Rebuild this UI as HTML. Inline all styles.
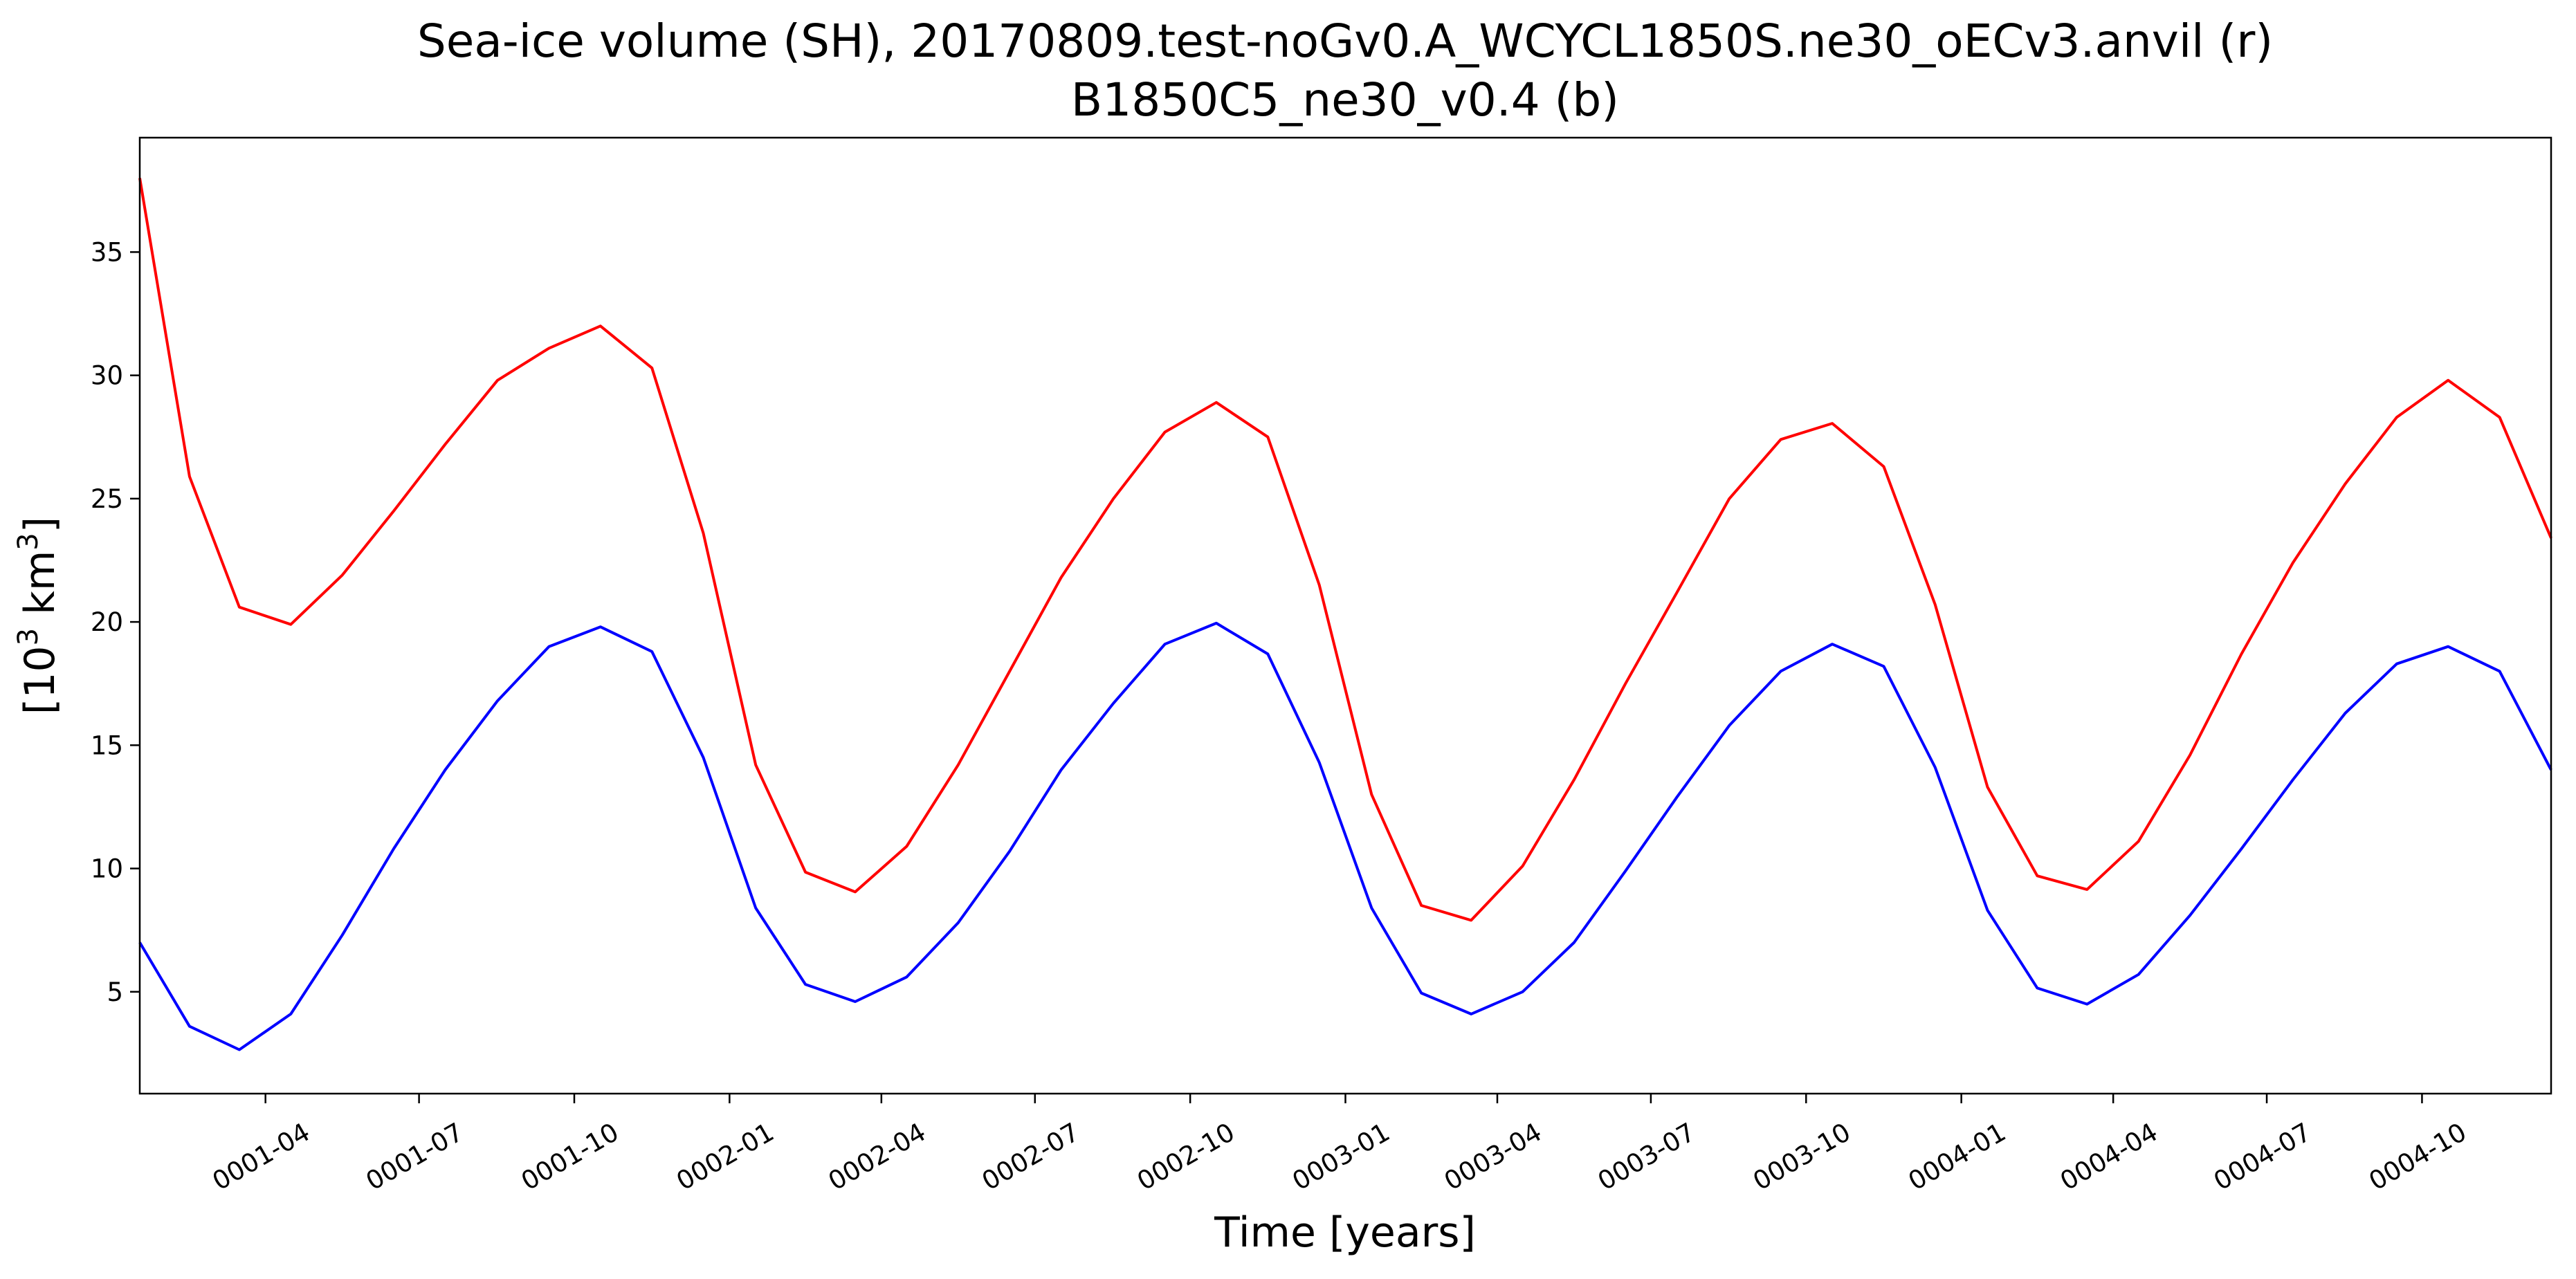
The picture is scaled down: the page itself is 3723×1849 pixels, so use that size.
<!DOCTYPE html>
<html><head><meta charset="utf-8"><style>html,body{margin:0;padding:0;background:#fff}svg{display:block}text{font-family:"DejaVu Sans","Liberation Sans",sans-serif;fill:#000}</style></head>
<body>
<svg id="chart" width="3723" height="1849" viewBox="0 0 3723 1849" xmlns="http://www.w3.org/2000/svg">
<rect width="3723" height="1849" fill="#fff"/>
<text x="1944" y="82" font-size="66" text-anchor="middle">Sea-ice volume (SH), 20170809.test-noGv0.A_WCYCL1850S.ne30_oECv3.anvil (r)</text>
<text x="1944" y="167" font-size="66" text-anchor="middle">B1850C5_ne30_v0.4 (b)</text>
<g id="plot"></g>
<rect x="202" y="199" width="3485" height="1382" fill="none" stroke="#000" stroke-width="2.5"/>
<text x="1944" y="1802" font-size="60" text-anchor="middle">Time [years]</text>
<text transform="translate(78,890) rotate(-90)" font-size="60" text-anchor="middle">[10<tspan font-size="40" dy="-24">3</tspan><tspan dy="24"> km</tspan><tspan font-size="40" dy="-24">3</tspan><tspan dy="24">]</tspan></text>
</svg>
<script>
const red = [38.0,25.9,20.6,19.9,21.9,24.5,27.2,29.8,31.1,32.0,30.3,23.6,14.2,9.85,9.05,10.9,14.2,18.0,21.8,25.0,27.7,28.9,27.5,21.5,13.0,8.5,7.9,10.1,13.6,17.5,21.2,25.0,27.4,28.05,26.3,20.7,13.3,9.7,9.15,11.1,14.6,18.7,22.4,25.6,28.3,29.8,28.3,23.4];
const blue = [7.0,3.6,2.65,4.1,7.3,10.8,14.0,16.8,19.0,19.8,18.8,14.5,8.4,5.3,4.6,5.6,7.8,10.7,14.0,16.7,19.1,19.95,18.7,14.3,8.4,4.95,4.1,5.0,7.0,9.9,12.9,15.8,18.0,19.1,18.2,14.1,8.3,5.15,4.5,5.7,8.1,10.8,13.6,16.3,18.3,19.0,18.0,14.0];
const yTicks = [5,10,15,20,25,30,35];
const xTickLabels = ["0001-04","0001-07","0001-10","0002-01","0002-04","0002-07","0002-10","0003-01","0003-04","0003-07","0003-10","0004-01","0004-04","0004-07","0004-10"];
const monthLen = [31,28,31,30,31,30,31,31,30,31,30,31];
const L=202,R=3687,T=199,B=1581,YMIN=0.87,YMAX=39.64;
const mStart=[];let acc=0;for(const m of monthLen){mStart.push(acc);acc+=m;}
const dayOfIdx=i=>Math.floor(i/12)*365+mStart[i%12]+monthLen[i%12]/2;
const D0=dayOfIdx(0),D1=dayOfIdx(red.length-1);
const xs=d=>L+(d-D0)/(D1-D0)*(R-L);
const ys=v=>B-(v-YMIN)/(YMAX-YMIN)*(B-T);
const NS="http://www.w3.org/2000/svg";
const g=document.getElementById('plot');
function mk(tag,attrs){const e=document.createElementNS(NS,tag);for(const k in attrs)e.setAttribute(k,attrs[k]);return e;}
yTicks.forEach(v=>{
  const y=ys(v);
  const t=mk('line',{x1:L-14,x2:L,y1:y,y2:y,stroke:'#000','stroke-width':2.5});
  
  
  g.appendChild(t);
  const lb=mk('text',{x:L-24,y:y+13,'font-size':37,'text-anchor':'end'});
  
  
  lb.textContent=v;g.appendChild(lb);
});
xTickLabels.forEach(s=>{
  const yr=parseInt(s.slice(0,4))-1,mo=parseInt(s.slice(5))-1;
  const x=xs(yr*365+mStart[mo]);
  const t=mk('line',{x1:x,x2:x,y1:B,y2:B+14,stroke:'#000','stroke-width':2.5});
  
  
  g.appendChild(t);
  const lb=mk('text',{'font-size':37,'text-anchor':'middle',transform:`translate(${x},${B+102}) rotate(-30)`});
  
  
  lb.textContent=s;g.appendChild(lb);
});
function series(arr,color,name){
  const pts=arr.map((v,i)=>xs(dayOfIdx(i)).toFixed(1)+','+ys(v).toFixed(1)).join(' ');
  const p=mk('polyline',{points:pts,fill:'none',stroke:color,'stroke-width':4,'stroke-linejoin':'round'});
  
  
  g.appendChild(p);
}
series(red,'#ff0000','red-series-line');
series(blue,'#0000ff','blue-series-line');
</script>
</body></html>
